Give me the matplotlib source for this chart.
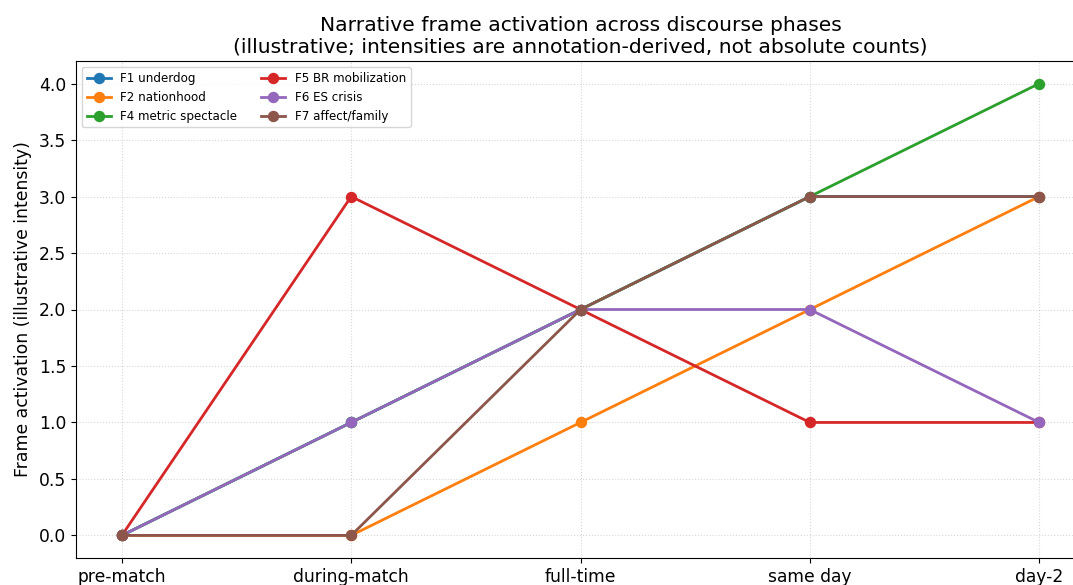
import matplotlib
matplotlib.use("Agg")
import matplotlib.pyplot as plt

phases = ["pre-match", "during-match", "full-time", "same day", "day-2"]
series_names = ["F1 underdog", "F2 nationhood", "F4 metric spectacle",
                "F5 BR mobilization", "F6 ES crisis", "F7 affect/family"]
f1 = [0, 1, 2, 3, 3]
f2 = [0, 0, 1, 2, 3]
f4 = [0, 1, 2, 3, 4]
f5 = [0, 3, 2, 1, 1]
f6 = [0, 1, 2, 2, 1]
f7 = [0, 0, 2, 3, 3]
values = [f1, f2, f4, f5, f6, f7]

fig = plt.figure(figsize=(10.73, 5.85), dpi=100)
ax = fig.add_axes([76/1073, 27/585, 1009/1073, 497/585])
x = list(range(len(phases)))
for name, v in zip(series_names, values):
    ax.plot(x, v, marker="o", linewidth=2, markersize=7.2, label=name)
ax.set_xticks(x)
ax.set_xticklabels(phases, fontsize=12.3)
ax.tick_params(axis="y", labelsize=12.3)
ax.set_ylabel("Frame activation (illustrative intensity)", fontsize=12.4, labelpad=5)
ax.set_title("Narrative frame activation across discourse phases\n"
             "(illustrative; intensities are annotation-derived, not absolute counts)",
             fontsize=14.6, pad=6)
ax.grid(True, linestyle=":", alpha=0.5)
ax.legend(loc="upper left", ncol=2, fontsize=8.6)
fig.savefig("out.png", dpi=100)
